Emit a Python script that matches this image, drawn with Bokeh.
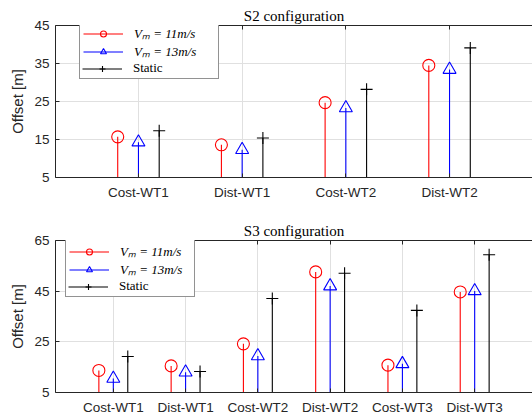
from bokeh.plotting import figure
from bokeh.models import (FixedTicker, Range1d, Legend, LegendItem, LinearAxis,
                          Title, ColumnDataSource)
from bokeh.layouts import column
from bokeh.embed import file_html
from bokeh.resources import INLINE

# ---------------- data ----------------
s2_categories = ["Cost-WT1", "Dist-WT1", "Cost-WT2", "Dist-WT2"]
s2_v11 = [15.7, 13.6, 24.7, 34.5]
s2_v13 = [14.3, 12.3, 23.3, 33.4]
s2_static = [17.3, 15.4, 28.2, 39.1]
s2_yticks = [5, 15, 25, 35, 45]

s3_categories = ["Cost-WT1", "Dist-WT1", "Cost-WT2", "Dist-WT2", "Cost-WT3", "Dist-WT3"]
s3_v11 = [13.7, 15.5, 24.2, 52.6, 15.8, 44.7]
s3_v13 = [10.5, 13.0, 19.4, 47.0, 16.3, 45.1]
s3_static = [19.2, 13.3, 42.1, 52.1, 37.4, 59.4]
s3_yticks = [5, 25, 45, 65]

series_labels = ["V\u2098 = 11m/s", "V\u2098 = 13m/s", "Static"]
series_colors = ["#ff0000", "#0000ff", "#000000"]
series_markers = ["circle", "triangle", "cross"]
series_sizes = [12, 13, 12]
series_shift = [-0.2, 0.0, 0.2]

AX = "#262626"
GRID = "#e0e0e0"
FRAME_W = 477
FRAME_H = 152
ROW_H = 15
PAD = 3
LEG_H = 3 * ROW_H + 2 * PAD


def make_panel(title, cats, series, yticks, btop, bbottom, leg_x, leg_gap, label_w):
    n = len(cats)
    ymin, ymax = yticks[0], yticks[-1]
    xt = list(range(1, n + 1))
    p = figure(frame_width=FRAME_W, frame_height=FRAME_H,
               x_range=Range1d(0.2, n + 0.8), y_range=Range1d(ymin, ymax),
               output_backend="svg", toolbar_location=None,
               min_border_left=55, min_border_right=0,
               min_border_top=btop, min_border_bottom=bbottom)
    p.title = Title(text=title, align="center", text_font="Liberation Serif",
                    text_font_size="15px", text_font_style="normal",
                    text_color="#000000", standoff=4)
    p.background_fill_color = "white"
    p.border_fill_color = "white"
    p.outline_line_color = None

    renderers = []
    for k, vals in enumerate(series):
        xs = [i + 1 + series_shift[k] for i in range(n)]
        src = ColumnDataSource(dict(x=xs, y=vals, y0=[0] * n))
        r1 = p.segment(x0="x", y0="y0", x1="x", y1="y", source=src,
                       line_color=series_colors[k], line_width=1.1)
        r2 = p.scatter("x", "y", source=src, marker=series_markers[k],
                       size=series_sizes[k], fill_color=None,
                       line_color=series_colors[k], line_width=1.1)
        renderers.append([r1, r2])
    # invisible placeholder used for the blank third row of the boxed legend
    blank = p.segment(x0=[], y0=[], x1=[], y1=[], line_alpha=0)

    # axes
    p.xaxis.ticker = FixedTicker(ticks=xt)
    p.xaxis.major_label_overrides = {i + 1: c for i, c in enumerate(cats)}
    p.yaxis.ticker = FixedTicker(ticks=yticks)
    for ax in (p.xaxis[0], p.yaxis[0]):
        ax.major_tick_in = 4
        ax.major_tick_out = 0
        ax.minor_tick_line_color = None
        ax.axis_line_color = AX
        ax.major_tick_line_color = AX
        ax.major_label_text_font = "Liberation Sans"
        ax.major_label_text_font_size = "13.5px"
        ax.major_label_text_color = AX
    p.xaxis.major_label_standoff = 7
    p.yaxis.major_label_standoff = 6
    p.yaxis.axis_label = "Offset [m]"
    p.yaxis.axis_label_text_font = "Liberation Sans"
    p.yaxis.axis_label_text_font_size = "15px"
    p.yaxis.axis_label_text_font_style = "normal"
    p.yaxis.axis_label_text_color = AX
    p.yaxis.axis_label_standoff = 5

    top = LinearAxis(ticker=FixedTicker(ticks=xt), major_label_text_font_size="0px",
                     major_tick_in=4, major_tick_out=0, axis_line_color=AX,
                     major_tick_line_color=AX, minor_tick_line_color=None,
                     major_label_standoff=0)
    top.major_label_overrides = {i + 1: "" for i in range(n)}
    p.add_layout(top, "above")

    p.xgrid.ticker = FixedTicker(ticks=xt)
    p.ygrid.ticker = FixedTicker(ticks=yticks)
    p.xgrid.grid_line_color = GRID
    p.ygrid.grid_line_color = GRID

    common = dict(label_text_font="Liberation Serif", label_text_font_size="13px",
                  label_text_color="#000000", glyph_width=40, glyph_height=ROW_H,
                  label_height=ROW_H, label_width=label_w, spacing=0, margin=0,
                  label_standoff=11)
    leg_bottom = FRAME_H - leg_gap - LEG_H
    items_a = [LegendItem(label=series_labels[0], renderers=renderers[0]),
               LegendItem(label=series_labels[1], renderers=renderers[1]),
               LegendItem(label=" ", renderers=[blank])]
    legend_a = Legend(items=items_a, location=(leg_x, leg_bottom),
                      label_text_font_style="italic", padding=PAD,
                      border_line_color=AX, border_line_width=1,
                      background_fill_color="white", background_fill_alpha=1,
                      **common)
    p.add_layout(legend_a)
    legend_b = Legend(items=[LegendItem(label=series_labels[2], renderers=renderers[2])],
                      location=(leg_x + PAD, leg_bottom + PAD),
                      label_text_font_style="normal", padding=0,
                      border_line_color=None, background_fill_alpha=0,
                      **common)
    p.add_layout(legend_b)
    return p


p1 = make_panel("S2 configuration", s2_categories, [s2_v11, s2_v13, s2_static],
                s2_yticks, 25, 23, 24, 3, 81)
p2 = make_panel("S3 configuration", s3_categories, [s3_v11, s3_v13, s3_static],
                s3_yticks, 38, 23, 10, 6, 71)

layout = column(p1, p2)
open("out.html", "w").write(file_html(layout, INLINE))
